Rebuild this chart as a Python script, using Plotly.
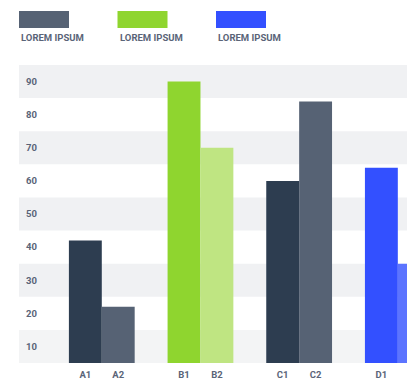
import plotly.graph_objects as go

groups = ["A", "B", "C", "D"]
labels1 = ["A1", "B1", "C1", "D1"]
labels2 = ["A2", "B2", "C2", "D2"]
values1 = [42, 90, 60, 64]
values2 = [22, 70, 84, 35]
colors1 = ["#2d3d50", "#8fd52f", "#2d3d50", "#3350ff"]
colors2 = ["#566274", "#bfe582", "#566274", "#5c74ff"]
ytick_vals = [10, 20, 30, 40, 50, 60, 70, 80, 90]
legend_names = ["LOREM IPSUM", "LOREM IPSUM", "LOREM IPSUM"]
legend_colors = ["#566274", "#8fd52f", "#3350ff"]

W = 1 / 3
x1 = [i - W / 2 for i in range(len(groups))]
x2 = [i + W / 2 for i in range(len(groups))]

FONT = "Roboto"
TXT = "#5a6478"

fig = go.Figure()
fig.add_trace(go.Bar(x=x1, y=values1, width=W, marker=dict(color=colors1, line=dict(width=0)),
                     base=0, showlegend=False, hoverinfo="skip"))
fig.add_trace(go.Bar(x=x2, y=values2, width=W, marker=dict(color=colors2, line=dict(width=0)),
                     base=0, showlegend=False, hoverinfo="skip"))

shapes = []
for k, v in enumerate(ytick_vals):
    if k % 2 == 0:
        shapes.append(dict(type="rect", xref="paper", yref="y", x0=0, x1=1,
                           y0=v - 5, y1=v + 5, fillcolor="#f0f1f3" if k else "#f3f4f5",
                           line=dict(width=0), layer="below"))

annotations = []
for i, (name, col) in enumerate(zip(legend_names, legend_colors)):
    x0 = 19 + i * 98.5
    shapes.append(dict(type="rect", xref="paper", yref="paper",
                       x0=(x0 - 19) / 388, x1=(x0 + 50 - 19) / 388,
                       y0=1 + (65 - 28) / 298, y1=1 + (65 - 11) / 298,
                       fillcolor=col, line=dict(width=0)))
    annotations.append(dict(text=name, xref="paper", yref="paper",
                            x=(x0 - 19) / 388, y=1 + (65 - 38) / 298,
                            xanchor="left", yanchor="middle", showarrow=False,
                            font=dict(family=FONT, size=9.5, color=TXT, weight="bold")))

fig.update_layout(
    width=407, height=383,
    margin=dict(l=19, r=0, t=65, b=20),
    paper_bgcolor="white", plot_bgcolor="white",
    shapes=shapes, annotations=annotations,
    barmode="overlay",
    xaxis=dict(range=[-0.839, 3.093], tickvals=x1 + x2, ticktext=labels1 + labels2,
               showgrid=False, zeroline=False, showline=False, ticks="",
               ticklabelstandoff=4,
               tickfont=dict(family=FONT, size=9.5, color=TXT, weight="bold")),
    yaxis=dict(range=[5, 95], tickvals=ytick_vals, ticktext=[str(v) for v in ytick_vals],
               showgrid=False, zeroline=False, showline=False, ticks="",
               ticklabelposition="inside", ticklabelstandoff=4,
               tickfont=dict(family=FONT, size=9.5, color=TXT, weight="bold")),
)

fig.write_html("out.html", config={"displayModeBar": False},
               post_script="document.body.style.margin='0';document.body.style.overflow='hidden';")
